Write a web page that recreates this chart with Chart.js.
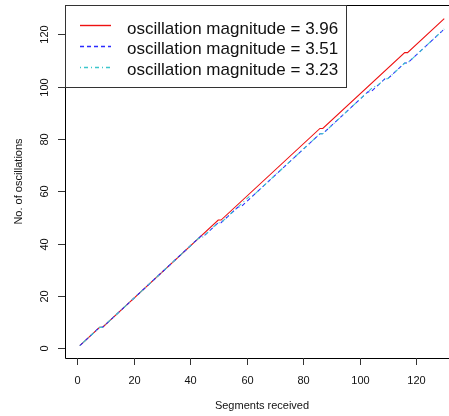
<!DOCTYPE html>
<html>
<head>
<meta charset="utf-8">
<title>Oscillations</title>
<script src="https://cdn.jsdelivr.net/npm/chart.js@4/dist/chart.umd.min.js"></script>
<style>
    html, body { margin: 0; padding: 0; background: #fff; overflow: hidden; }
    #wrap { width: 449px; height: 416px; }
</style>
</head>
<body>
<div id="wrap"><canvas id="oscChart" width="449" height="416"></canvas></div>
<script>
// Series (vertices where the slope changes)
const redX  = [1, 8, 9, 50, 51, 86, 87, 116, 117, 130];
const redY  = [1, 8, 8, 49, 49, 84, 84, 113, 113, 126];

const blueX = [1, 8, 9, 44, 45, 50, 51, 57, 58, 86, 87, 103, 104, 109, 110, 116, 117, 130];
const blueY = [1, 8, 8, 43, 43, 48, 48, 54, 54, 82, 82, 98, 98, 103, 103, 109, 109, 122];

const cyanX = [1, 8, 9, 43, 44, 50, 51, 61, 62, 86, 87, 105, 106, 109, 110, 116, 117, 130];
const cyanY = [1, 8, 8, 42, 42, 48, 48, 58, 58, 82, 82, 100, 100, 103, 103, 109, 109, 122];

const seriesLabels = ['oscillation magnitude = 3.96', 'oscillation magnitude = 3.51', 'oscillation magnitude = 3.23'];

// Tick labels
const xTicks = [0, 20, 40, 60, 80, 100, 120];
const yTicks = [0, 20, 40, 60, 80, 100, 120];

// Line styles (R: red solid, blue dashed, cyan dot-dash)
const seriesColors = ['#ee1111', '#2b2bff', '#3cc6cc'];
const seriesDashes = [[], [4, 3], [1, 3, 4, 3]];

const FONT = '"Liberation Sans", Arial, Helvetica, sans-serif';

function toPoints(xs, ys) {
    return xs.map((x, i) => ({ x: x, y: ys[i] }));
}

// Draws the R-style box, ticks, labels and legend
const rAxesPlugin = {
    id: 'rAxes',
    afterDraw(chart) {
        const ctx = chart.ctx;
        const area = chart.chartArea;
        const xs = chart.scales.x;
        const ys = chart.scales.y;

        ctx.save();
        ctx.strokeStyle = '#000';
        ctx.lineWidth = 1;
        ctx.setLineDash([]);

        // box
        ctx.beginPath();
        ctx.moveTo(area.right, area.top + 0.5);
        ctx.lineTo(area.left + 0.5, area.top + 0.5);
        ctx.lineTo(area.left + 0.5, area.bottom + 0.5);
        ctx.lineTo(area.right, area.bottom + 0.5);
        ctx.stroke();

        // x ticks
        ctx.strokeStyle = '#333';
        ctx.fillStyle = '#111';
        ctx.font = '11px ' + FONT;
        ctx.textAlign = 'center';
        ctx.textBaseline = 'alphabetic';
        xTicks.forEach(v => {
            const px = Math.round(xs.getPixelForValue(v)) + 0.5;
            ctx.beginPath();
            ctx.moveTo(px, area.bottom);
            ctx.lineTo(px, area.bottom + 7);
            ctx.stroke();
            ctx.fillText(String(v), px, 383.5);
        });

        // y ticks (labels rotated like R's default)
        yTicks.forEach(v => {
            const py = Math.round(ys.getPixelForValue(v)) + 0.5;
            ctx.beginPath();
            ctx.moveTo(area.left - 7, py);
            ctx.lineTo(area.left, py);
            ctx.stroke();
            ctx.save();
            ctx.translate(48, py);
            ctx.rotate(-Math.PI / 2);
            ctx.fillText(String(v), 0, 0);
            ctx.restore();
        });

        // axis titles
        ctx.fillText('Segments received', 262, 409);
        ctx.save();
        ctx.translate(22, 181.5);
        ctx.rotate(-Math.PI / 2);
        ctx.fillText('No. of oscillations', 0, 0);
        ctx.restore();

        // legend
        ctx.strokeStyle = '#333';
        ctx.strokeRect(65.5, 5.5, 281, 82);
        ctx.font = '17px ' + FONT;
        ctx.textAlign = 'left';
        seriesLabels.forEach((label, i) => {
            const ly = 25.5 + i * 21;
            ctx.strokeStyle = seriesColors[i];
            ctx.lineWidth = 1.4;
            ctx.setLineDash(seriesDashes[i]);
            ctx.beginPath();
            ctx.moveTo(80, ly);
            ctx.lineTo(111, ly);
            ctx.stroke();
            ctx.setLineDash([]);
            ctx.lineWidth = 1;
            ctx.fillStyle = '#111';
            ctx.fillText(label, 127, 33.5 + i * 20.75);
        });

        ctx.restore();
    }
};

function createChart() {
    const ctx = document.getElementById('oscChart').getContext('2d');

    const datasets = [[redX, redY], [blueX, blueY], [cyanX, cyanY]].map((s, i) => ({
        label: seriesLabels[i],
        data: toPoints(s[0], s[1]),
        borderColor: seriesColors[i],
        borderWidth: 1.1,
        borderDash: seriesDashes[i],
        order: 2 - i
    }));

    new Chart(ctx, {
        type: 'line',
        data: { datasets: datasets },
        options: {
            responsive: false,
            animation: false,
            devicePixelRatio: 1,
            layout: {
                padding: { left: 65, top: 5, right: 0, bottom: 58 }
            },
            elements: {
                point: { radius: 0 },
                line: { tension: 0, fill: false }
            },
            plugins: {
                legend: { display: false },
                tooltip: { enabled: false }
            },
            scales: {
                x: {
                    type: 'linear',
                    display: false,
                    min: -4.25,
                    max: 131.68
                },
                y: {
                    type: 'linear',
                    display: false,
                    min: -3.71,
                    max: 131.18
                }
            }
        },
        plugins: [rAxesPlugin]
    });
}

document.addEventListener('DOMContentLoaded', createChart);
</script>
</body>
</html>
